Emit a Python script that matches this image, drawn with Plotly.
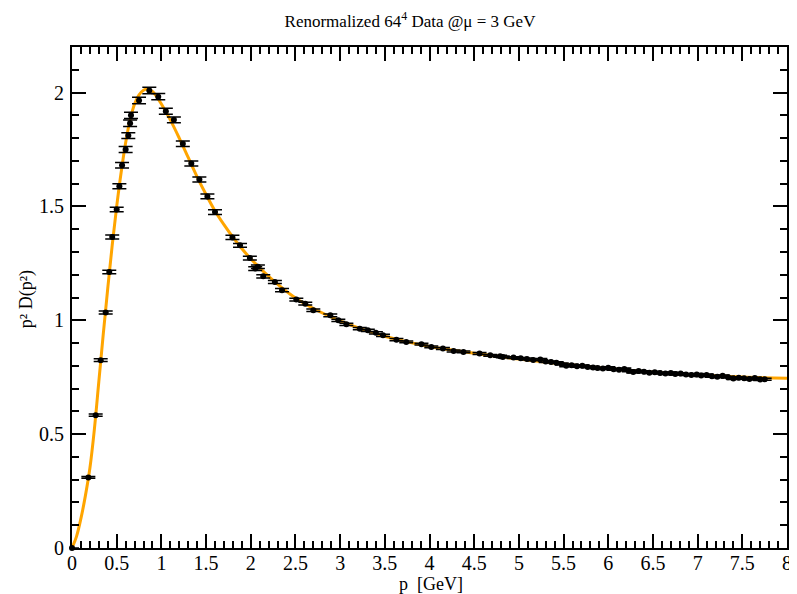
import plotly.graph_objects as go

# Lattice data: momentum p [GeV], p^2 D(p^2), error
p_data = [0.0, 0.183, 0.265, 0.321, 0.377, 0.417, 0.45, 0.50, 0.53, 0.56, 0.60, 0.63, 0.65, 0.66,
          0.75, 0.865, 0.965, 1.05, 1.14, 1.24, 1.335, 1.425, 1.515, 1.60, 1.795, 1.88, 1.99,
          2.05, 2.08, 2.14, 2.27, 2.35, 2.51, 2.61, 2.70, 2.89, 2.98, 3.07, 3.22, 3.31, 3.40,
          3.48, 3.63, 3.74, 3.91, 4.02, 4.15, 4.27, 4.38, 4.56, 4.68, 4.79, 4.82, 4.94, 5.02,
          5.09, 5.16, 5.24, 5.30, 5.36, 5.42, 5.48, 5.53, 5.59, 5.65, 5.71, 5.77, 5.83, 5.88,
          5.94, 6.00, 6.06, 6.12, 6.18, 6.23, 6.28, 6.34, 6.40, 6.46, 6.52, 6.58, 6.64, 6.70,
          6.75, 6.81, 6.87, 6.93, 6.99, 7.04, 7.10, 7.16, 7.22, 7.28, 7.34, 7.40, 7.46, 7.52,
          7.58, 7.64, 7.70, 7.75]
d_data = [0.0, 0.310, 0.583, 0.825, 1.034, 1.212, 1.366, 1.486, 1.588, 1.681, 1.750, 1.811, 1.865, 1.900,
          1.965, 2.009, 1.982, 1.918, 1.880, 1.775, 1.688, 1.618, 1.544, 1.475, 1.364, 1.329, 1.273,
          1.227, 1.235, 1.193, 1.168, 1.132, 1.091, 1.073, 1.044, 1.022, 1.000, 0.982, 0.963, 0.956, 0.945,
          0.934, 0.915, 0.905, 0.895, 0.883, 0.876, 0.865, 0.861, 0.854, 0.846, 0.842, 0.839, 0.836, 0.833,
          0.830, 0.826, 0.828, 0.819, 0.817, 0.814, 0.808, 0.800, 0.803, 0.798, 0.800, 0.795, 0.793, 0.790,
          0.788, 0.792, 0.785, 0.783, 0.786, 0.778, 0.773, 0.777, 0.774, 0.770, 0.772, 0.768, 0.766, 0.769,
          0.764, 0.766, 0.762, 0.760, 0.762, 0.757, 0.760, 0.754, 0.752, 0.756, 0.750, 0.744, 0.748, 0.745,
          0.742, 0.746, 0.740, 0.741]
e_data = [0.0, 0.004, 0.005, 0.006, 0.007, 0.008, 0.009, 0.010, 0.011, 0.012, 0.013, 0.013, 0.014, 0.014,
          0.014, 0.014, 0.014, 0.013, 0.013, 0.012, 0.011, 0.011, 0.010, 0.010, 0.009, 0.008, 0.008,
          0.008, 0.008, 0.007, 0.007, 0.007, 0.006, 0.006, 0.006, 0.006, 0.005, 0.005, 0.005, 0.005, 0.005,
          0.005, 0.005, 0.004, 0.004, 0.004, 0.004, 0.004, 0.004, 0.004, 0.004, 0.004, 0.004, 0.004, 0.004,
          0.004, 0.004, 0.004, 0.004, 0.004, 0.004, 0.004, 0.004, 0.004, 0.004, 0.004, 0.004, 0.004, 0.004,
          0.004, 0.004, 0.004, 0.004, 0.004, 0.004, 0.004, 0.004, 0.004, 0.004, 0.004, 0.004, 0.004, 0.004,
          0.004, 0.004, 0.004, 0.004, 0.004, 0.004, 0.004, 0.004, 0.004, 0.004, 0.004, 0.004, 0.004, 0.004,
          0.004, 0.004, 0.004, 0.004]

# Fit curve samples
p_fit = [0.0, 0.05, 0.10, 0.15, 0.20, 0.25, 0.30, 0.35, 0.40, 0.45, 0.50, 0.55, 0.60, 0.65, 0.70,
         0.75, 0.80, 0.85, 0.90, 0.95, 1.00, 1.10, 1.20, 1.30, 1.40, 1.50, 1.60, 1.70, 1.80, 1.90,
         2.00, 2.25, 2.50, 2.75, 3.00, 3.25, 3.50, 3.75, 4.00, 4.50, 5.00, 5.50, 6.00, 6.50, 7.00,
         7.50, 8.00]
d_fit = [0.0, 0.05, 0.13, 0.23, 0.35, 0.52, 0.73, 0.94, 1.14, 1.33, 1.50, 1.65, 1.78, 1.88, 1.95,
         1.99, 2.01, 2.015, 2.005, 1.98, 1.95, 1.88, 1.80, 1.715, 1.63, 1.552, 1.48, 1.42, 1.365, 1.315,
         1.27, 1.175, 1.098, 1.042, 0.997, 0.960, 0.930, 0.905, 0.885, 0.855, 0.830, 0.808, 0.788, 0.772, 0.760,
         0.751, 0.745]

title_text = "Renormalized 64<sup>4</sup> Data @μ = 3 GeV"
x_title = "p\u00a0\u00a0[GeV]"
y_title = "p² D(p²)"

serif = "Liberation Serif, Times New Roman, serif"

fig = go.Figure()
fig.add_trace(go.Scatter(
    x=p_fit, y=d_fit, mode="lines", line=dict(color="#FFA500", width=3, shape="spline"),
    showlegend=False,
))
fig.add_trace(go.Scatter(
    x=p_data, y=d_data, mode="markers", cliponaxis=False,
    marker=dict(color="black", size=6, symbol="circle"),
    error_y=dict(type="data", array=e_data, visible=True, color="black", thickness=1.5, width=7),
    showlegend=False,
))

axis_common = dict(
    showgrid=False, zeroline=False, showline=True, linecolor="black", linewidth=2,
    mirror="ticks", ticks="inside", ticklen=14, tickwidth=1.5, tickcolor="black",
    tickfont=dict(family=serif, size=20, color="black"), automargin=False,
)
fig.update_xaxes(range=[0, 8], dtick=0.5, tick0=0, ticklabelstandoff=-4,
                 minor=dict(dtick=0.1, ticks="inside", ticklen=7, tickwidth=1.5, tickcolor="black"),
                 **axis_common)
fig.update_yaxes(range=[0, 2.2], dtick=0.5, tick0=0, ticklabelstandoff=2,
                 minor=dict(dtick=0.1, ticks="inside", ticklen=7, tickwidth=1.5, tickcolor="black"),
                 **axis_common)

# The page body adds an 8px offset; the figure is sized/margined to compensate.
fig.update_layout(
    width=789, height=586,
    margin=dict(l=64, r=10, t=39, b=46, autoexpand=False),
    plot_bgcolor="white", paper_bgcolor="white",
    title=dict(text=title_text, x=0.5095, xref="container", xanchor="center",
               y=0.978, yref="container", yanchor="middle",
               font=dict(family=serif, size=17, color="black")),
    annotations=[
        dict(text=x_title, xref="paper", yref="paper", x=0.502, y=-0.071,
             xanchor="center", yanchor="middle", showarrow=False,
             font=dict(family=serif, size=18, color="black")),
        dict(text=y_title, xref="paper", yref="paper", x=-0.064, y=0.497, textangle=-90,
             xanchor="center", yanchor="middle", showarrow=False,
             font=dict(family=serif, size=18, color="black")),
    ],
)

fig.write_html("out.html")
